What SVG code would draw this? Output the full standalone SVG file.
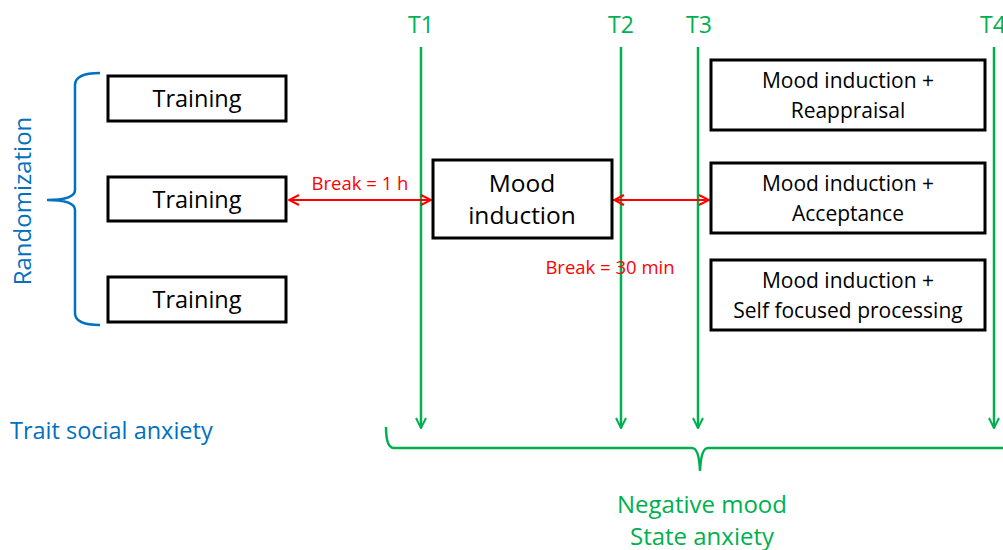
<svg xmlns="http://www.w3.org/2000/svg" width="1003" height="550" viewBox="0 0 1003 550">
<style>
.box{fill:#fff;stroke:#000;stroke-width:3}
.t{font-family:"Open Sans","Liberation Sans",sans-serif;fill:#000;text-anchor:middle}
.g{fill:#00B050;font-family:"Open Sans","Liberation Sans",sans-serif;text-anchor:middle}
.gl{stroke:#00B050;stroke-width:2.5;fill:none}
.rl{stroke:#FF0000;stroke-width:2;fill:none}
.r{fill:#FF0000;font-family:"Open Sans","Liberation Sans",sans-serif;font-size:18.5px;text-anchor:middle}
.b{fill:#0070C0;font-family:"Open Sans","Liberation Sans",sans-serif}
</style>
<defs>
<marker id="ga" viewBox="0 0 12 12" refX="11" refY="6" markerWidth="12" markerHeight="12" markerUnits="userSpaceOnUse" orient="auto"><path d="M1,1 L11,6 L1,11" fill="none" stroke="#00B050" stroke-width="2"/></marker>
<marker id="ra" viewBox="0 0 12 12" refX="11" refY="6" markerWidth="12" markerHeight="12" markerUnits="userSpaceOnUse" orient="auto-start-reverse"><path d="M1,1 L11,6 L1,11" fill="none" stroke="#FF0000" stroke-width="2"/></marker>
</defs>
<g id="connectors">
<line class="gl" x1="421" y1="47" x2="421" y2="428" marker-end="url(#ga)"/>
<line class="gl" x1="621" y1="47" x2="621" y2="428" marker-end="url(#ga)"/>
<line class="gl" x1="698" y1="47" x2="698" y2="428" marker-end="url(#ga)"/>
<line class="gl" x1="994" y1="47" x2="994" y2="428" marker-end="url(#ga)"/>
<line class="rl" x1="289" y1="200" x2="431" y2="200" marker-start="url(#ra)" marker-end="url(#ra)"/>
<line class="rl" x1="614" y1="200" x2="709" y2="200" marker-start="url(#ra)" marker-end="url(#ra)"/>
<path class="gl" d="M386,427 Q386,448 394,448 L692,448 Q699,448 700,471 Q701,448 708,448 L1003,448"/>
<path d="M100,73 Q75,73 75,85 L75,190 Q75,200 47,200 Q75,200 75,210 L75,313 Q75,325 100,325" fill="none" stroke="#0070C0" stroke-width="2.5"/>
</g>
<g id="labels">
<text class="g" x="421" y="33" font-size="23">T1</text>
<text class="g" x="621" y="33" font-size="23">T2</text>
<text class="g" x="699" y="33" font-size="23">T3</text>
<text class="g" x="993" y="33" font-size="23">T4</text>
<text class="r" x="360" y="190">Break = 1 h</text>
<text class="r" x="610" y="274">Break = 30 min</text>
<text class="b" x="10" y="439" font-size="23.5">Trait social anxiety</text>
<text class="b" font-size="24" text-anchor="middle" transform="translate(31,201) rotate(-90)">Randomization</text>
<text class="g" x="702" y="513" font-size="24">Negative mood</text>
<text class="g" x="702" y="545" font-size="24">State anxiety</text>
</g>
<g id="training1"><rect class="box" x="108" y="76" width="178" height="45"/><text class="t" x="197" y="107" font-size="23.5">Training</text></g>
<g id="training2"><rect class="box" x="108" y="177" width="178" height="44"/><text class="t" x="197" y="208" font-size="23.5">Training</text></g>
<g id="training3"><rect class="box" x="108" y="277" width="178" height="45"/><text class="t" x="197" y="308" font-size="23.5">Training</text></g>
<g id="mood"><rect class="box" x="433" y="160" width="179" height="78"/><text class="t" x="522" y="192" font-size="24.5">Mood</text><text class="t" x="522" y="224" font-size="24.5">induction</text></g>
<g id="reappraisal"><rect class="box" x="711" y="60" width="274" height="70"/><text class="t" x="848" y="88" font-size="21">Mood induction +</text><text class="t" x="848" y="118" font-size="21">Reappraisal</text></g>
<g id="acceptance"><rect class="box" x="711" y="163" width="274" height="70"/><text class="t" x="848" y="191" font-size="21">Mood induction +</text><text class="t" x="848" y="221" font-size="21">Acceptance</text></g>
<g id="selffocused"><rect class="box" x="711" y="260" width="274" height="70"/><text class="t" x="848" y="288" font-size="21">Mood induction +</text><text class="t" x="848" y="318" font-size="21">Self focused processing</text></g>
</svg>
